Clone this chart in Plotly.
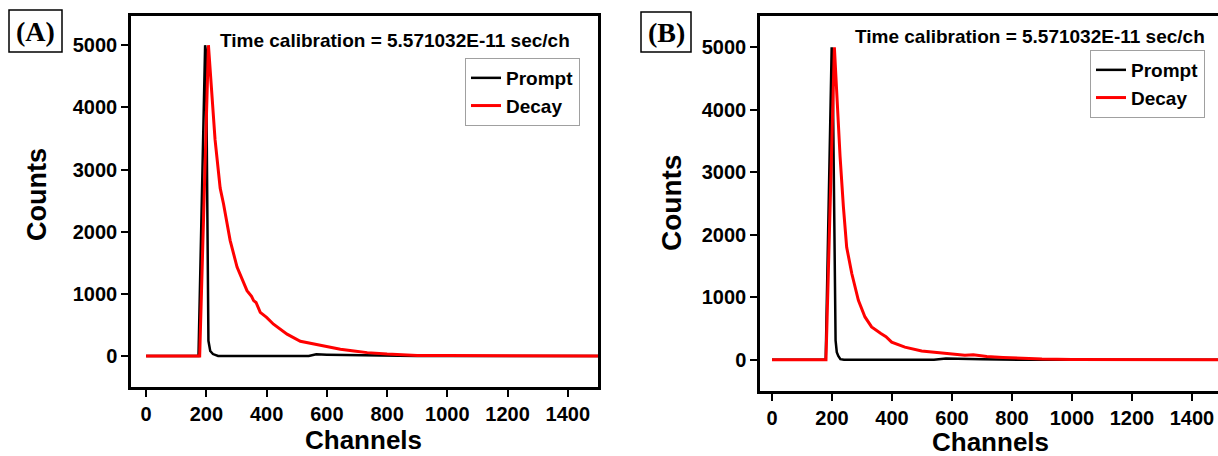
import plotly.graph_objects as go

W, H = 1218, 456

# ---------------- data ----------------
# Panel A
prompt_a_ch = [0, 174, 196, 199, 207, 213, 222, 239, 540, 565, 600, 700, 900, 1500]
prompt_a_ct = [0, 0, 5000, 4900, 243, 80, 30, 0, 0, 25, 20, 12, 0, 0]

decay_a_ch = [0, 178, 207, 213, 229, 246, 257, 279, 302, 335, 350, 357, 365, 379, 400,
              423, 468, 512, 556, 601, 623, 645, 690, 734, 800, 845, 900, 1000, 1500]
decay_a_ct = [0, 0, 5000, 4560, 3480, 2700, 2450, 1860, 1430, 1050, 960, 890, 860, 700, 620,
              510, 350, 235, 189, 146, 124, 108, 80, 53, 30, 16, 8, 5, 0]

# Panel B
prompt_b_ch = [0, 179, 199, 202, 212, 216, 221, 228, 240, 540, 580, 620, 700, 820, 1500]
prompt_b_ct = [0, 0, 5000, 4800, 309, 120, 60, 10, 0, 0, 20, 20, 10, 0, 0]

decay_b_ch = [0, 180, 208, 215, 227, 238, 249, 266, 288, 310, 332, 363, 380, 399, 443,
              499, 554, 604, 643, 671, 716, 770, 827, 900, 1000, 1500]
decay_b_ct = [0, 0, 5000, 4320, 3250, 2450, 1800, 1380, 950, 685, 525, 420, 370, 282, 202,
              140, 110, 88, 72, 80, 53, 38, 26, 12, 5, 0]

x_ticks = [0, 200, 400, 600, 800, 1000, 1200, 1400]
y_ticks = [0, 1000, 2000, 3000, 4000, 5000]
calib_text = "Time calibration = 5.571032E-11 sec/ch"
panel_labels = ["(A)", "(B)"]

# ---------------- helpers ----------------
def px(x):
    return x / W


def py(y):
    return 1 - y / H


SANS = "Liberation Sans, Arial, sans-serif"
SERIF = "Liberation Serif, Times New Roman, serif"

fig = go.Figure()

fig.add_trace(go.Scatter(x=prompt_a_ch, y=prompt_a_ct, mode="lines", name="Prompt",
                         line=dict(color="black", width=2.5), xaxis="x", yaxis="y",
                         legend="legend"))
fig.add_trace(go.Scatter(x=decay_a_ch, y=decay_a_ct, mode="lines", name="Decay",
                         line=dict(color="#ff0000", width=3), xaxis="x", yaxis="y",
                         legend="legend"))
fig.add_trace(go.Scatter(x=prompt_b_ch, y=prompt_b_ct, mode="lines", name="Prompt",
                         line=dict(color="black", width=2.5), xaxis="x2", yaxis="y2",
                         legend="legend2"))
fig.add_trace(go.Scatter(x=decay_b_ch, y=decay_b_ct, mode="lines", name="Decay",
                         line=dict(color="#ff0000", width=3), xaxis="x2", yaxis="y2",
                         legend="legend2"))

tickfont = dict(family=SANS, size=20, color="black", weight="bold")
axis_common = dict(showline=True, linecolor="black", linewidth=2.5, ticks="outside",
                   ticklen=7, tickwidth=2, tickcolor="black", showgrid=False,
                   zeroline=False, tickfont=tickfont)

legend_common = dict(xanchor="left", yanchor="top", bordercolor="#a0a0a0", borderwidth=1,
                     bgcolor="white", itemwidth=30, tracegroupgap=0,
                     font=dict(family=SANS, size=19, color="black", weight="bold"))

fig.update_layout(
    width=W, height=H,
    margin=dict(l=0, r=0, t=0, b=0),
    paper_bgcolor="white", plot_bgcolor="white",
    xaxis=dict(domain=[px(131), px(598)], range=[-50, 1500], anchor="y",
               tickvals=x_ticks, mirror=True, **axis_common),
    yaxis=dict(domain=[py(387), py(16)], range=[-500, 5470], anchor="x",
               tickvals=y_ticks, mirror=True, **axis_common),
    xaxis2=dict(domain=[px(760), 1.0], range=[-40, 1487], anchor="y2",
                tickvals=x_ticks, mirror=True, **axis_common),
    yaxis2=dict(domain=[py(391), py(16)], range=[-500, 5500], anchor="x2",
                tickvals=y_ticks, mirror=False, **axis_common),
    legend=dict(x=px(465), y=py(58), **legend_common),
    legend2=dict(x=px(1090), y=py(50), **legend_common),
    showlegend=True,
)

annotations = []
# calibration text
for cx, cy in [(395, 40), (1030, 37)]:
    annotations.append(dict(x=px(cx), y=py(cy), xref="paper", yref="paper",
                            text=calib_text, showarrow=False, xanchor="center",
                            yanchor="middle",
                            font=dict(family=SANS, size=19, color="black", weight="bold")))
# y titles
for cx, cy, sz in [(37, 195, 27), (671, 203, 28)]:
    annotations.append(dict(x=px(cx), y=py(cy), xref="paper", yref="paper",
                            text="Counts", textangle=-90, showarrow=False,
                            xanchor="center", yanchor="middle",
                            font=dict(family=SANS, size=sz, color="black", weight="bold")))
# x titles
for cx, cy in [(363, 440), (990, 442)]:
    annotations.append(dict(x=px(cx), y=py(cy), xref="paper", yref="paper",
                            text="Channels", showarrow=False,
                            xanchor="center", yanchor="middle",
                            font=dict(family=SANS, size=26, color="black", weight="bold")))
# panel labels
shapes = []
for lab, (x0, y0, x1, y1) in zip(panel_labels, [(9, 10, 62, 52), (641, 12, 691, 52)]):
    shapes.append(dict(type="rect", xref="paper", yref="paper",
                       x0=px(x0), x1=px(x1), y0=py(y1), y1=py(y0),
                       line=dict(color="black", width=1.5), fillcolor="white"))
    annotations.append(dict(x=px((x0 + x1) / 2), y=py((y0 + y1) / 2), xref="paper",
                            yref="paper", text=lab, showarrow=False, xanchor="center",
                            yanchor="middle",
                            font=dict(family=SERIF, size=28, color="black", weight="bold")))

fig.update_layout(annotations=annotations, shapes=shapes)

fig.write_html("out.html")
